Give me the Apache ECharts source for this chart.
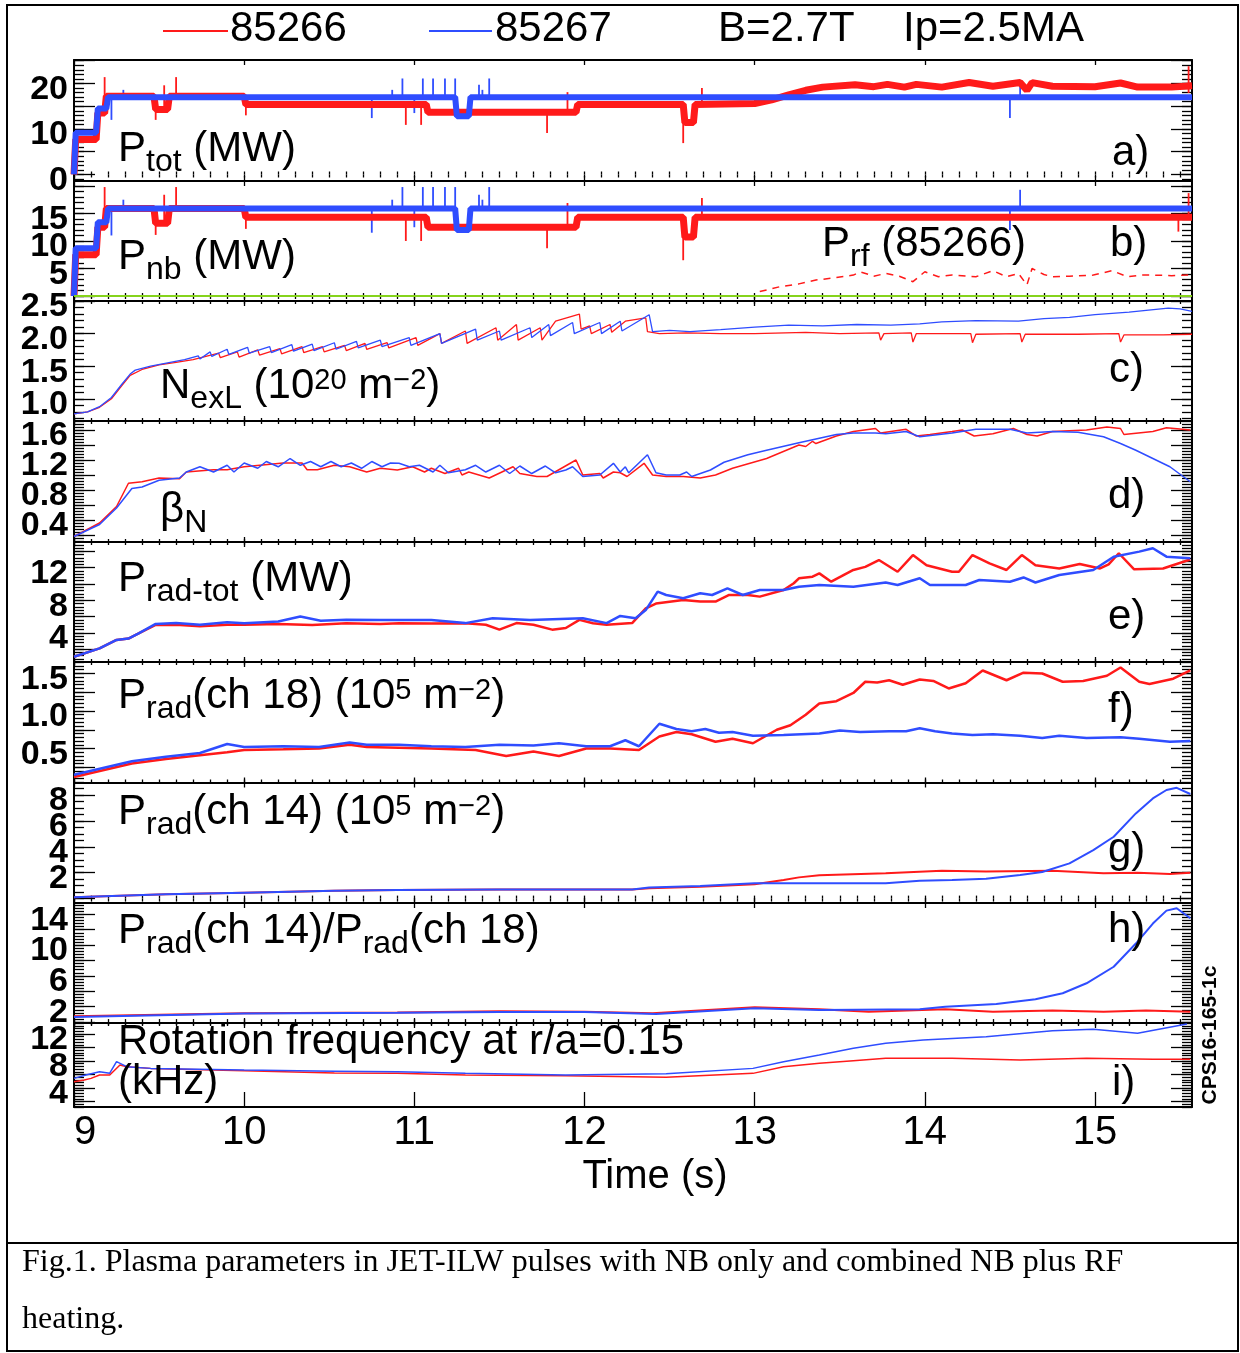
<!DOCTYPE html>
<html>
<head>
<meta charset="utf-8">
<script src="https://cdn.jsdelivr.net/npm/echarts@6/dist/echarts.min.js"></script>
<style>
html, body { margin: 0; padding: 0; background: #fff; }
#chart { width: 1240px; height: 1353px; }
</style>
</head>
<body>
<div id="chart"></div>
<script>
const FONT = '"Liberation Sans", Arial, Helvetica, sans-serif';
const SERIF = '"Liberation Serif", "Times New Roman", serif';
const RED = '#ff1a1a';
const BLUE = '#2f4dff';
const GREEN = '#86d31c';

// time axis
const T0 = 9, T1 = 15.57;
const timeTicks = [9, 10, 11, 12, 13, 14, 15];

// tick labels of each panel
const ptotLabels = [0, 10, 20];
const pnbLabels = [5, 10, 15];
const nelLabels = [1.0, 1.5, 2.0, 2.5];
const betaLabels = [0.4, 0.8, 1.2, 1.6];
const pradLabels = [4, 8, 12];
const ch18Labels = [0.5, 1.0, 1.5];
const ch14Labels = [2, 4, 6, 8];
const ratioLabels = [2, 6, 10, 14];
const rotLabels = [4, 8, 12];

// a) total power, red = 85266, blue = 85267
const ptotRed = [[9.0,0],[9.01,7.7],[9.13,7.7],[9.14,13.5],[9.18,13.5],[9.19,17.2],[9.47,17.2],[9.48,14.3],[9.55,14.3],[9.56,17.2],[10.0,17.2],[10.01,15.4],[11.07,15.4],[11.08,13.7],[11.95,13.7],[11.96,15.4],[12.58,15.4],[12.59,11.4],[12.64,11.4],[12.65,15.4],[13.0,15.6],[13.1,16.4],[13.2,17.5],[13.3,18.5],[13.4,19.2],[13.59,19.7],[13.7,19.3],[13.78,19.8],[13.88,19.2],[13.95,19.8],[14.1,19.2],[14.26,20.2],[14.4,19.4],[14.56,20.2],[14.6,18.5],[14.63,20.2],[14.75,19.4],[15.0,19.3],[15.15,20.1],[15.25,19.2],[15.45,19.2],[15.57,19.5]];
const ptotBlue = [[9.0,0],[9.01,9.2],[9.13,9.2],[9.14,14.5],[9.19,14.5],[9.2,17],[11.24,17],[11.25,12.8],[11.32,12.8],[11.33,17],[15.57,17]];
const ptotRedSpikes = [[9.18,17,21.4],[9.48,12,17],[9.53,14,19.6],[9.6,17,21.4],[10.01,13,15.4],[10.95,10.9,15.4],[11.04,10.9,15.4],[11.78,9.1,13.7],[11.9,13.7,18.1],[12.58,6.9,11.4],[12.69,15.4,19],[15.55,17.9,23.8]];
const ptotBlueSpikes = [[9.22,12,17],[9.29,17,18.6],[10.75,12.4,17],[10.87,17,18.6],[10.93,17,21.1],[11.0,13.5,17],[11.05,17,21.1],[11.11,17,21.1],[11.18,17,21.1],[11.24,17,21.1],[11.38,17,19.7],[11.4,17,18.6],[11.44,17,21.1],[14.5,12.4,17],[14.56,17,20.8]];

// b) NB power and RF power
const pnbRed = [[9.0,0],[9.01,7.5],[9.13,7.5],[9.14,12.5],[9.18,12.5],[9.19,15.9],[9.47,15.9],[9.48,13.2],[9.55,13.2],[9.56,15.9],[10.0,15.9],[10.01,14.3],[11.07,14.3],[11.08,12.5],[11.95,12.5],[11.96,14.3],[12.58,14.3],[12.59,10.7],[12.64,10.7],[12.65,14.3],[15.57,14.3]];
const pnbBlue = [[9.0,0],[9.01,8.7],[9.13,8.7],[9.14,13.4],[9.19,13.4],[9.2,15.9],[11.24,15.9],[11.25,12],[11.32,12],[11.33,15.9],[15.57,15.9]];
const pnbRedSpikes = [[9.18,15.9,19.8],[9.48,11.1,15.9],[9.53,13.2,18.4],[9.6,15.9,19.8],[10.01,12.2,14.3],[10.95,10,14.3],[11.04,10,14.3],[11.78,8.7,12.5],[11.9,12.5,16.9],[12.58,6.5,10.7],[12.69,14.3,17.8],[15.49,11.7,14.3],[15.55,14.3,18.7]];
const pnbBlueSpikes = [[9.22,11,15.9],[9.29,15.9,17.5],[10.75,11.5,15.9],[10.87,15.9,17.5],[10.93,15.9,19.8],[11.0,12.5,15.9],[11.05,15.9,19.8],[11.11,15.9,19.8],[11.18,15.9,19.8],[11.24,15.9,19.8],[11.38,15.9,18.4],[11.4,15.9,17.5],[11.44,15.9,19.8],[14.5,12,15.9],[14.56,15.9,19.3]];
const prfRed = [[13.03,0.8],[13.15,1.7],[13.26,2.2],[13.36,2.9],[13.47,3.3],[13.58,3.8],[13.62,4.4],[13.7,3.6],[13.77,4.1],[13.85,3.6],[13.93,2.6],[14.0,4.4],[14.08,3.5],[14.16,3.8],[14.3,3.5],[14.4,4.6],[14.48,3.5],[14.55,4.1],[14.6,2.0],[14.63,5.0],[14.7,3.9],[14.75,3.5],[14.85,3.6],[14.99,3.8],[15.1,4.6],[15.19,3.5],[15.27,3.8],[15.34,3.8],[15.45,3.7],[15.55,3.8]];
const prfZero = [[9.0,0],[15.57,0]];

// c) line integrated density
const nelRed = [[9.0,0.77],[9.08,0.8],[9.15,0.87],[9.22,1.0],[9.28,1.2],[9.33,1.36],[9.4,1.45],[9.5,1.52],[9.6,1.56],[9.7,1.6],[9.85,1.7],[9.86,1.63],[9.96,1.72],[9.97,1.64],[10.08,1.75],[10.09,1.67],[10.21,1.77],[10.22,1.69],[10.34,1.8],[10.35,1.71],[10.46,1.8],[10.47,1.72],[10.59,1.82],[10.6,1.74],[10.71,1.85],[10.72,1.76],[10.84,1.86],[10.85,1.78],[11.01,1.94],[11.02,1.82],[11.15,2.0],[11.16,1.85],[11.3,2.04],[11.31,1.85],[11.48,2.09],[11.49,1.9],[11.6,2.14],[11.61,1.9],[11.74,2.09],[11.75,1.9],[11.83,2.19],[11.97,2.3],[11.98,2.07],[12.03,2.12],[12.04,2.0],[12.15,2.14],[12.16,2.02],[12.24,2.19],[12.36,2.24],[12.37,2.03],[12.44,2.0],[12.6,2.01],[12.8,2.0],[13.0,2.0],[13.3,2.02],[13.5,2.0],[13.73,2.01],[13.74,1.9],[13.76,2.0],[13.92,2.01],[13.93,1.87],[13.95,2.0],[14.27,2.0],[14.28,1.86],[14.3,1.99],[14.56,2.0],[14.57,1.87],[14.59,1.99],[14.9,1.99],[15.14,2.0],[15.15,1.87],[15.17,1.98],[15.4,1.98],[15.57,1.99]];
const nelBlue = [[9.0,0.77],[9.08,0.8],[9.15,0.88],[9.22,1.02],[9.28,1.22],[9.33,1.38],[9.36,1.44],[9.45,1.5],[9.55,1.55],[9.65,1.6],[9.73,1.66],[9.74,1.61],[9.8,1.72],[9.81,1.65],[9.9,1.76],[9.91,1.68],[10.02,1.79],[10.03,1.7],[10.15,1.8],[10.16,1.71],[10.28,1.83],[10.29,1.73],[10.4,1.84],[10.41,1.74],[10.53,1.86],[10.54,1.76],[10.66,1.88],[10.67,1.78],[10.8,1.9],[10.81,1.8],[10.97,1.94],[10.98,1.82],[11.15,2.0],[11.16,1.85],[11.36,2.07],[11.37,1.9],[11.5,2.04],[11.51,1.9],[11.68,2.09],[11.69,1.94],[11.79,2.14],[11.8,1.97],[11.93,2.17],[11.94,2.0],[12.09,2.17],[12.1,2.0],[12.21,2.19],[12.22,2.04],[12.38,2.29],[12.4,2.03],[12.5,2.05],[12.62,2.03],[12.8,2.06],[13.0,2.1],[13.2,2.13],[13.4,2.12],[13.6,2.14],[13.8,2.13],[13.97,2.15],[14.1,2.18],[14.3,2.2],[14.55,2.19],[14.7,2.23],[14.85,2.25],[15.0,2.29],[15.2,2.33],[15.43,2.39],[15.5,2.38],[15.57,2.34]];

// d) normalised beta
const betaRed = [[9.0,0.18],[9.15,0.36],[9.25,0.58],[9.32,0.89],[9.4,0.91],[9.5,0.96],[9.62,0.95],[9.66,1.04],[9.82,1.07],[9.9,1.07],[10.0,1.11],[10.23,1.16],[10.34,1.16],[10.37,1.07],[10.43,1.07],[10.53,1.13],[10.62,1.11],[10.72,1.04],[10.8,1.09],[10.9,1.067],[10.99,1.11],[11.06,1.04],[11.1,1.09],[11.18,1.02],[11.26,1.09],[11.28,1.0],[11.32,1.04],[11.44,0.96],[11.58,1.11],[11.62,1.02],[11.72,0.98],[11.78,0.98],[11.95,1.2],[11.99,1.0],[12.09,1.02],[12.11,0.96],[12.17,1.04],[12.21,1.03],[12.25,0.98],[12.35,1.156],[12.4,1.0],[12.48,0.98],[12.58,0.98],[12.68,0.96],[12.77,1.0],[12.87,1.09],[13.07,1.22],[13.26,1.4],[13.3,1.38],[13.34,1.45],[13.36,1.42],[13.48,1.52],[13.58,1.58],[13.71,1.62],[13.74,1.56],[13.8,1.58],[13.89,1.61],[13.95,1.52],[14.03,1.54],[14.16,1.58],[14.22,1.6],[14.29,1.52],[14.4,1.55],[14.52,1.62],[14.6,1.54],[14.66,1.52],[14.75,1.58],[14.95,1.6],[15.07,1.64],[15.15,1.62],[15.17,1.54],[15.34,1.58],[15.42,1.63],[15.56,1.6]];
const betaBlue = [[9.0,0.18],[9.15,0.34],[9.25,0.56],[9.34,0.82],[9.4,0.84],[9.5,0.93],[9.62,0.96],[9.66,1.04],[9.74,1.11],[9.82,1.04],[9.9,1.13],[9.94,1.04],[10.0,1.16],[10.08,1.09],[10.13,1.18],[10.2,1.11],[10.27,1.22],[10.33,1.13],[10.39,1.18],[10.45,1.11],[10.51,1.18],[10.57,1.11],[10.63,1.16],[10.69,1.09],[10.75,1.18],[10.81,1.11],[10.86,1.16],[10.91,1.156],[10.97,1.11],[11.03,1.13],[11.11,1.04],[11.15,1.13],[11.2,1.03],[11.3,1.07],[11.36,1.13],[11.42,1.04],[11.5,1.13],[11.56,1.02],[11.62,1.12],[11.69,1.02],[11.77,1.12],[11.83,1.03],[11.89,1.067],[11.93,1.11],[11.99,0.98],[12.09,1.0],[12.17,1.156],[12.21,1.04],[12.24,1.11],[12.26,1.03],[12.37,1.27],[12.42,1.03],[12.48,1.0],[12.56,1.0],[12.6,1.04],[12.63,0.98],[12.74,1.067],[12.82,1.17],[12.96,1.27],[13.07,1.33],[13.26,1.43],[13.38,1.49],[13.48,1.54],[13.58,1.56],[13.71,1.56],[13.77,1.55],[13.89,1.58],[13.97,1.51],[14.16,1.56],[14.3,1.61],[14.5,1.61],[14.6,1.56],[14.75,1.58],[14.9,1.57],[15.05,1.51],[15.15,1.42],[15.24,1.33],[15.34,1.22],[15.44,1.11],[15.56,0.91]];

// e) total radiated power
const pradRed = [[9.0,1.08],[9.15,2.1],[9.25,3.13],[9.32,3.3],[9.38,3.95],[9.48,4.97],[9.6,5.0],[9.74,4.8],[9.9,5.0],[10.0,5.0],[10.2,5.1],[10.4,4.97],[10.6,5.18],[10.8,5.1],[10.91,5.18],[11.1,5.15],[11.3,5.18],[11.42,5.0],[11.5,4.4],[11.6,5.2],[11.7,5.0],[11.81,4.4],[11.89,4.6],[11.97,5.6],[12.05,5.18],[12.13,5.0],[12.28,5.2],[12.36,7.0],[12.42,7.6],[12.58,8.04],[12.68,7.85],[12.77,7.85],[12.85,8.65],[12.96,8.65],[13.03,8.45],[13.17,9.26],[13.23,10.09],[13.26,10.7],[13.34,10.9],[13.38,11.3],[13.45,10.28],[13.58,11.72],[13.65,12.1],[13.73,12.94],[13.84,11.5],[13.93,13.55],[14.01,12.3],[14.16,11.5],[14.2,11.5],[14.28,13.55],[14.38,12.53],[14.48,11.72],[14.57,13.55],[14.65,12.3],[14.79,11.9],[14.91,12.45],[15.03,11.9],[15.08,12.4],[15.14,13.77],[15.23,11.8],[15.4,11.9],[15.56,13.0]];
const pradBlue = [[9.0,1.08],[9.15,2.1],[9.25,3.13],[9.32,3.3],[9.38,3.95],[9.48,5.1],[9.6,5.2],[9.74,5.0],[9.9,5.3],[10.0,5.18],[10.2,5.4],[10.33,6.0],[10.45,5.5],[10.6,5.6],[10.8,5.58],[10.91,5.58],[11.1,5.58],[11.3,5.2],[11.46,5.8],[11.68,5.58],[11.99,5.79],[12.13,5.2],[12.21,6.08],[12.3,5.79],[12.36,6.8],[12.43,9.06],[12.48,8.65],[12.58,8.25],[12.68,8.86],[12.75,8.65],[12.84,9.47],[12.93,8.65],[13.03,9.26],[13.17,9.26],[13.26,9.67],[13.38,9.88],[13.58,9.67],[13.77,10.18],[13.84,9.88],[13.97,10.7],[14.03,9.88],[14.24,9.88],[14.32,10.49],[14.5,10.28],[14.58,10.8],[14.65,10.18],[14.79,11.1],[14.99,11.72],[15.11,13.35],[15.26,13.97],[15.34,14.38],[15.42,13.35],[15.56,13.15]];

// f) bolometer channel 18
const ch18Red = [[9.0,0.12],[9.34,0.3],[9.54,0.36],[9.74,0.41],[9.9,0.45],[10.0,0.48],[10.23,0.49],[10.44,0.5],[10.62,0.55],[10.72,0.52],[10.91,0.51],[11.1,0.5],[11.36,0.48],[11.54,0.4],[11.7,0.46],[11.85,0.4],[12.01,0.5],[12.15,0.5],[12.32,0.48],[12.44,0.66],[12.54,0.72],[12.63,0.69],[12.77,0.59],[12.87,0.63],[12.99,0.57],[13.13,0.75],[13.21,0.81],[13.3,0.95],[13.38,1.1],[13.48,1.13],[13.58,1.24],[13.65,1.39],[13.72,1.38],[13.79,1.41],[13.87,1.35],[13.97,1.42],[14.05,1.4],[14.14,1.3],[14.24,1.37],[14.34,1.54],[14.48,1.41],[14.58,1.51],[14.69,1.5],[14.81,1.39],[14.93,1.4],[15.07,1.47],[15.15,1.58],[15.26,1.39],[15.32,1.36],[15.46,1.43],[15.56,1.54]];
const ch18Blue = [[9.0,0.15],[9.34,0.33],[9.54,0.39],[9.74,0.44],[9.9,0.56],[10.0,0.52],[10.23,0.53],[10.44,0.52],[10.62,0.58],[10.72,0.55],[10.91,0.55],[11.1,0.53],[11.3,0.52],[11.5,0.55],[11.7,0.54],[11.85,0.57],[12.01,0.53],[12.15,0.53],[12.24,0.61],[12.32,0.53],[12.44,0.83],[12.54,0.76],[12.63,0.73],[12.71,0.76],[12.79,0.71],[12.87,0.72],[12.99,0.67],[13.17,0.68],[13.38,0.7],[13.5,0.74],[13.62,0.72],[13.79,0.73],[13.89,0.73],[13.97,0.77],[14.06,0.73],[14.16,0.7],[14.28,0.68],[14.4,0.69],[14.56,0.67],[14.69,0.64],[14.79,0.67],[14.95,0.64],[15.15,0.65],[15.26,0.63],[15.44,0.59],[15.56,0.6]];

// g) bolometer channel 14
const ch14Red = [[9.0,0.1],[9.54,0.33],[10.0,0.46],[10.53,0.61],[10.9,0.66],[11.5,0.7],[12.0,0.7],[12.28,0.7],[12.38,0.79],[12.68,0.92],[13.0,1.1],[13.17,1.44],[13.26,1.64],[13.38,1.8],[13.77,1.95],[14.1,2.16],[14.36,2.1],[14.75,2.16],[15.05,1.95],[15.25,2.0],[15.44,1.9],[15.56,2.0]];
const ch14Blue = [[9.0,0.1],[9.54,0.33],[10.0,0.46],[10.53,0.61],[10.9,0.66],[11.5,0.7],[12.0,0.7],[12.28,0.7],[12.38,0.85],[12.68,0.97],[13.0,1.18],[13.38,1.18],[13.77,1.18],[13.97,1.37],[14.16,1.44],[14.36,1.54],[14.56,1.82],[14.69,2.05],[14.85,2.72],[14.99,3.75],[15.11,4.78],[15.24,6.58],[15.34,7.74],[15.42,8.39],[15.48,8.56],[15.56,8.08]];

// h) ratio ch14 / ch18
const ratioRed = [[9.0,0.75],[10.0,1.14],[10.9,1.25],[11.5,1.4],[12.0,1.35],[12.4,1.14],[13.0,1.92],[13.38,1.66],[13.67,1.35],[14.12,1.66],[14.4,1.35],[14.75,1.5],[15.05,1.35],[15.3,1.5],[15.56,1.35]];
const ratioBlue = [[9.0,0.65],[10.0,1.1],[10.9,1.2],[11.5,1.3],[12.0,1.3],[12.42,1.05],[13.0,1.79],[13.38,1.57],[13.6,1.6],[13.97,1.66],[14.12,2.0],[14.42,2.35],[14.65,2.96],[14.81,3.74],[14.95,5.04],[15.11,7.19],[15.24,10.2],[15.34,12.8],[15.42,14.48],[15.48,14.78],[15.56,13.48]];

// i) rotation frequency
const rotRed = [[9.0,4.93],[9.06,5.2],[9.1,5.43],[9.15,5.93],[9.21,5.93],[9.27,7.41],[9.31,7.16],[9.45,6.91],[10.0,6.54],[10.53,6.24],[10.9,6.17],[11.3,5.93],[11.89,5.8],[12.48,5.6],[12.99,6.17],[13.17,7.16],[13.38,7.66],[13.58,8.05],[13.77,8.4],[14.16,8.4],[14.56,8.15],[14.95,8.4],[15.34,8.25],[15.56,8.25]];
const rotBlue = [[9.0,5.43],[9.07,5.93],[9.15,6.41],[9.21,6.2],[9.25,7.9],[9.31,7.16],[9.45,6.91],[10.0,6.66],[10.53,6.5],[10.9,6.41],[11.3,6.17],[11.89,5.93],[12.48,6.1],[12.99,6.91],[13.17,7.9],[13.38,8.89],[13.58,9.88],[13.77,10.62],[13.99,11.11],[14.36,11.6],[14.75,12.5],[14.99,12.7],[15.25,12.1],[15.54,13.48]];

// panel layout (pixels) and axis ranges
const panels = [
    { top: 60,    height: 121,   min: -1.43,  max: 25.16, labels: ptotLabels,  major: [0, 25, 5],       minor: 1,    dec: 0 },
    { top: 181,   height: 120,   min: -0.91,  max: 20.9,  labels: pnbLabels,   major: [0, 20, 5],       minor: 1,    dec: 0 },
    { top: 301,   height: 120,   min: 0.66,   max: 2.5,   labels: nelLabels,   major: [1.0, 2.5, 0.5],  minor: 0.1,  dec: 1 },
    { top: 421,   height: 121,   min: 0.107,  max: 1.72,  labels: betaLabels,  major: [0.2, 1.6, 0.2],  minor: 0.04, dec: 1 },
    { top: 542,   height: 120,   min: 0.43,   max: 15.15, labels: pradLabels,  major: [2, 14, 2],       minor: 0.4,  dec: 0 },
    { top: 662,   height: 120.5, min: 0.047,  max: 1.653, labels: ch18Labels,  major: [0.25, 1.5, 0.25],minor: 0.05, dec: 1 },
    { top: 782.5, height: 120.5, min: -0.34,  max: 8.97,  labels: ch14Labels,  major: [0, 8, 2],        minor: 0.5,  dec: 0 },
    { top: 903,   height: 120,   min: -0.12,  max: 15.47, labels: ratioLabels, major: [0, 14, 2],       minor: 0.4,  dec: 0 },
    { top: 1023,  height: 84,    min: 1.19,   max: 13.63, labels: rotLabels,   major: [2, 12, 2],       minor: 0.4,  dec: 0 }
];

function steps(a, b, s) {
    const out = [];
    const n = Math.floor((b - a) / s + 1e-6);
    for (let k = 0; k <= n; k++) out.push(Math.round((a + k * s) * 1000) / 1000);
    return out;
}
const timeMinor = steps(9, T1, 0.1);

const black = { color: '#000', width: 2 };
const tickLine = { color: '#000', width: 1.3 };

function yLabel(values, dec) {
    return {
        show: true, customValues: values,
        formatter: v => dec ? Number(v).toFixed(1) : String(Math.round(v)),
        fontSize: 34, fontWeight: 'bold', fontFamily: FONT, color: '#000',
        margin: 6, verticalAlign: 'top', lineHeight: 12,
        hideOverlap: false, showMinLabel: true, showMaxLabel: true
    };
}

const xAxes = [];
const yAxes = [];
panels.forEach((p, g) => {
    const last = g === panels.length - 1;
    const base = {
        gridIndex: g, type: 'value', min: T0, max: T1,
        splitLine: { show: false },
        axisLine: { show: true, onZero: false, lineStyle: black },
        axisLabel: { show: false }
    };
    xAxes.push(Object.assign({}, base, {
        position: 'bottom',
        axisTick: { show: true, inside: true, length: last ? 15 : 5, customValues: timeTicks, lineStyle: tickLine },
        axisLabel: last ? {
            show: true, customValues: timeTicks, fontSize: 40, fontFamily: FONT,
            color: '#000', margin: 6, alignMinLabel: 'left', hideOverlap: false
        } : { show: false }
    }));
    xAxes.push(Object.assign({}, base, {
        position: 'bottom', axisLine: { show: false },
        axisTick: { show: !last, inside: true, length: 3, customValues: timeMinor, lineStyle: tickLine }
    }));
    xAxes.push(Object.assign({}, base, {
        position: 'top',
        axisTick: { show: true, inside: true, length: 5, customValues: timeTicks, lineStyle: tickLine }
    }));
    xAxes.push(Object.assign({}, base, {
        position: 'top', axisLine: { show: false },
        axisTick: { show: true, inside: true, length: 3, customValues: timeMinor, lineStyle: tickLine }
    }));

    const major = steps(p.major[0], p.major[1], p.major[2]);
    const minor = steps(Math.ceil(p.min / p.minor - 1e-9) * p.minor, p.max, p.minor);
    // labels split over two overlapping axes so that none of them is dropped
    const evenLabels = p.labels.filter((v, i) => i % 2 === 0);
    const oddLabels = p.labels.filter((v, i) => i % 2 === 1);
    const ybase = {
        gridIndex: g, type: 'value', min: p.min, max: p.max,
        splitLine: { show: false },
        axisLabel: { show: false }
    };
    ['left', 'right'].forEach(side => {
        yAxes.push(Object.assign({}, ybase, {
            position: side,
            axisLine: { show: true, onZero: false, lineStyle: black },
            axisTick: { show: true, inside: true, length: 21, customValues: major, lineStyle: tickLine },
            axisLabel: side === 'left' ? yLabel(evenLabels, p.dec) : { show: false }
        }));
        yAxes.push(Object.assign({}, ybase, {
            position: side,
            axisLine: { show: false },
            axisTick: { show: true, inside: true, length: 10, customValues: minor, lineStyle: tickLine },
            axisLabel: side === 'left' && oddLabels.length ? yLabel(oddLabels, p.dec) : { show: false }
        }));
    });
});

function line(g, data, color, width, dashed) {
    return {
        type: 'line', xAxisIndex: 4 * g, yAxisIndex: 4 * g, data: data,
        showSymbol: false, symbol: 'none', animation: false,
        lineStyle: { color: color, width: width, type: dashed ? [7, 6] : 'solid' },
        itemStyle: { color: color }
    };
}
function spikes(g, data, color) {
    return {
        type: 'custom', xAxisIndex: 4 * g, yAxisIndex: 4 * g, data: data,
        encode: { x: 0, y: [1, 2] }, animation: false,
        renderItem: (params, api) => {
            const a = api.coord([api.value(0), api.value(1)]);
            const b = api.coord([api.value(0), api.value(2)]);
            return {
                type: 'line',
                shape: { x1: a[0], y1: a[1], x2: b[0], y2: b[1] },
                style: { stroke: color, lineWidth: 1.8 }
            };
        }
    };
}

const series = [
    line(0, ptotRed, RED, 7), spikes(0, ptotRedSpikes, RED),
    line(0, ptotBlue, BLUE, 6), spikes(0, ptotBlueSpikes, BLUE),
    line(1, pnbRed, RED, 7), spikes(1, pnbRedSpikes, RED),
    line(1, pnbBlue, BLUE, 6), spikes(1, pnbBlueSpikes, BLUE),
    line(1, prfZero, GREEN, 2), line(1, prfRed, RED, 1.5, true),
    line(2, nelRed, RED, 1.3), line(2, nelBlue, BLUE, 1.3),
    line(3, betaRed, RED, 1.5), line(3, betaBlue, BLUE, 1.5),
    line(4, pradRed, RED, 2.5), line(4, pradBlue, BLUE, 2.5),
    line(5, ch18Red, RED, 2.5), line(5, ch18Blue, BLUE, 2.5),
    line(6, ch14Red, RED, 2), line(6, ch14Blue, BLUE, 2),
    line(7, ratioRed, RED, 2), line(7, ratioBlue, BLUE, 2),
    line(8, rotRed, RED, 1.5), line(8, rotBlue, BLUE, 1.5)
];

// rich text pieces: m main, s subscript, u superscript
const rich = {
    m: { fontSize: 42, fontFamily: FONT, fill: '#000', color: '#000', verticalAlign: 'middle' },
    s: { fontSize: 32, fontFamily: FONT, fill: '#000', color: '#000', verticalAlign: 'middle', padding: [26, 0, 0, 0] },
    u: { fontSize: 29, fontFamily: FONT, fill: '#000', color: '#000', verticalAlign: 'middle', padding: [0, 0, 10, 0] }
};
function text(x, y, str, size, extra) {
    return {
        type: 'text', x: x, y: y, z: 100,
        style: Object.assign({
            text: str, fontSize: size || 42, fontFamily: FONT, fill: '#000',
            align: 'left', verticalAlign: 'middle', textAlign: 'left', textVerticalAlign: 'middle', rich: rich
        }, extra || {})
    };
}

const graphic = [
    { type: 'rect', shape: { x: 7, y: 5, width: 1231, height: 1346 }, style: { fill: 'none', stroke: '#000', lineWidth: 2 } },
    { type: 'line', shape: { x1: 7, y1: 1243, x2: 1238, y2: 1243 }, style: { stroke: '#000', lineWidth: 2 } },
    // legend
    { type: 'line', shape: { x1: 163, y1: 31, x2: 228, y2: 31 }, style: { stroke: RED, lineWidth: 2 } },
    { type: 'line', shape: { x1: 429, y1: 31, x2: 492, y2: 31 }, style: { stroke: BLUE, lineWidth: 2 } },
    text(230, 29, '85266', 42),
    text(495, 29, '85267', 42),
    text(718, 29, 'B=2.7T', 42),
    text(903, 29, 'Ip=2.5MA', 42),
    // panel titles
    text(118, 149, '{m|P}{s|tot}{m| (MW)}'),
    text(1112, 153, 'a)'),
    text(118, 257, '{m|P}{s|nb}{m| (MW)}'),
    text(822, 244, '{m|P}{s|rf}{m| (85266)}'),
    text(1110, 244, 'b)'),
    text(160, 386, '{m|N}{s|exL}{m| (10}{u|20}{m| m}{u|\u22122}{m|)}'),
    text(1109, 370, 'c)'),
    text(160, 510, '{m|\u03b2}{s|N}'),
    text(1108, 496, 'd)'),
    text(118, 579, '{m|P}{s|rad-tot}{m| (MW)}'),
    text(1108, 617, 'e)'),
    text(118, 696, '{m|P}{s|rad}{m|(ch 18) (10}{u|5}{m| m}{u|\u22122}{m|)}'),
    text(1108, 710, 'f)'),
    text(118, 812, '{m|P}{s|rad}{m|(ch 14) (10}{u|5}{m| m}{u|\u22122}{m|)}'),
    text(1108, 850, 'g)'),
    text(118, 931, '{m|P}{s|rad}{m|(ch 14)/P}{s|rad}{m|(ch 18)}'),
    text(1108, 930, 'h)'),
    text(118, 1042, 'Rotation frequency at r/a=0.15'),
    text(118, 1082, '(kHz)'),
    text(1112, 1083, 'i)'),
    text(655, 1177, 'Time (s)', 40, { align: 'center', textAlign: 'center' }),
    {
        type: 'text', x: 1210, y: 1035, rotation: Math.PI / 2, z: 100,
        style: {
            text: 'CPS16-165-1c', fontSize: 21, fontWeight: 'bold', fontFamily: FONT, fill: '#000',
            align: 'center', verticalAlign: 'middle', textAlign: 'center', textVerticalAlign: 'middle'
        }
    },
    text(22, 1263, 'Fig.1. Plasma parameters in JET-ILW pulses with NB only and combined NB plus RF', 32, { fontFamily: SERIF }),
    text(22, 1320, 'heating.', 32, { fontFamily: SERIF })
];

const chart = echarts.init(document.getElementById('chart'), null, { renderer: 'canvas' });
chart.setOption({
    animation: false,
    backgroundColor: '#fff',
    grid: panels.map(p => ({ left: 74, width: 1118, top: p.top, height: p.height })),
    xAxis: xAxes,
    yAxis: yAxes,
    series: series,
    graphic: graphic
});
</script>
</body>
</html>
